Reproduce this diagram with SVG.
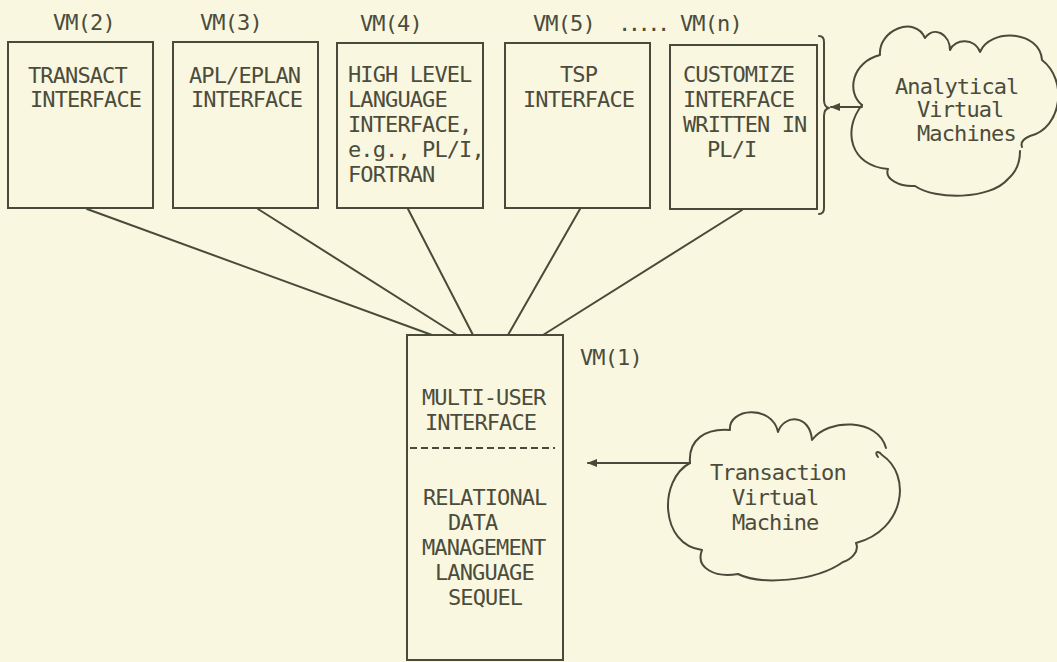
<svg xmlns="http://www.w3.org/2000/svg" width="1057" height="662" viewBox="0 0 1057 662">
  <style>
    .bg { fill: #f9f7e0; }
    .box { fill: none; stroke: #4a4a3a; stroke-width: 2; }
    .ln { fill: none; stroke: #4a4a3a; stroke-width: 2; stroke-linecap: round; stroke-linejoin: round; }
    .cloud { fill: none; stroke: #4a4a3a; stroke-width: 2; stroke-linecap: round; stroke-linejoin: round; }
    .dash { stroke: #4a4a3a; stroke-width: 2; stroke-dasharray: 7 4; }
    .t { font-family: "DejaVu Sans Mono", "Liberation Mono", monospace; font-size: 22px; letter-spacing: -0.9px; fill: #4c4c3c; }
    .dots { letter-spacing: -3.5px; }
  </style>
  <defs>
    <marker id="arrow" viewBox="0 0 10 8" refX="9" refY="4" markerWidth="10" markerHeight="8" markerUnits="userSpaceOnUse" orient="auto">
      <path d="M0,0 L10,4 L0,8 z" fill="#4a4a3a"/>
    </marker>
  </defs>

  <rect class="bg" x="0" y="0" width="1057" height="662"/>

  <!-- labels above the interface machines -->
  <g id="vm-labels">
    <text class="t" x="53" y="30">VM(2)</text>
    <text class="t" x="200" y="30">VM(3)</text>
    <text class="t" x="360" y="31">VM(4)</text>
    <text class="t" x="533" y="31">VM(5)</text>
    <text class="t dots" x="618" y="31">.....</text>
    <text class="t" x="680" y="31">VM(n)</text>
  </g>

  <g id="transact">
    <rect class="box" x="8" y="42" width="145" height="166"/>
    <text class="t" x="28" y="83">TRANSACT</text>
    <text class="t" x="30" y="107">INTERFACE</text>
  </g>

  <g id="apl-eplan">
    <rect class="box" x="173" y="42" width="145" height="166"/>
    <text class="t" x="189" y="83">APL/EPLAN</text>
    <text class="t" x="191" y="107">INTERFACE</text>
  </g>

  <g id="high-level">
    <rect class="box" x="337" y="43" width="146" height="165"/>
    <text class="t" x="348" y="82">HIGH LEVEL</text>
    <text class="t" x="348" y="107">LANGUAGE</text>
    <text class="t" x="348" y="132">INTERFACE,</text>
    <text class="t" x="348" y="157">e.g., PL/I,</text>
    <text class="t" x="348" y="182">FORTRAN</text>
  </g>

  <g id="tsp">
    <rect class="box" x="505" y="43" width="145" height="165"/>
    <text class="t" x="560" y="82">TSP</text>
    <text class="t" x="523" y="107">INTERFACE</text>
  </g>

  <g id="customize">
    <rect class="box" x="670" y="45" width="147" height="164"/>
    <text class="t" x="683" y="82">CUSTOMIZE</text>
    <text class="t" x="683" y="107">INTERFACE</text>
    <text class="t" x="683" y="132">WRITTEN IN</text>
    <text class="t" x="707" y="157">PL/I</text>
  </g>

  <!-- brace grouping the analytical machines -->
  <g id="brace">
    <path class="ln" d="M819,36 Q824,36 824,42 L824,100 Q824,107 829,108 Q824,109 824,116 L824,208 Q824,214 819,214"/>
  </g>

  <g id="analytical-cloud">
    <path class="cloud" d="M862,105 C846,92 852,62 880,55 C878,30 915,15 925,38 C935,25 950,35 950,50 C955,38 975,38 980,52 C990,28 1040,30 1042,60 C1068,80 1062,128 1030,136 C1025,138 1020,141 1022,147"/>
    <path class="cloud" d="M1020,151 C1020,163 1015,173 1008,179 C990,200 935,200 915,186 C900,187 884,179 888,169 C850,166 842,130 862,105"/>
    <text class="t" x="895" y="94">Analytical</text>
    <text class="t" x="917" y="117">Virtual</text>
    <text class="t" x="917" y="141">Machines</text>
  </g>

  <g id="vm1">
    <rect class="box" x="407" y="335" width="156" height="325"/>
    <text class="t" x="580" y="365">VM(1)</text>
    <text class="t" x="422" y="405">MULTI-USER</text>
    <text class="t" x="425" y="430">INTERFACE</text>
    <line class="dash" x1="410" y1="448" x2="555" y2="448"/>
    <text class="t" x="423" y="505">RELATIONAL</text>
    <text class="t" x="448" y="530">DATA</text>
    <text class="t" x="422" y="555">MANAGEMENT</text>
    <text class="t" x="435" y="580">LANGUAGE</text>
    <text class="t" x="448" y="605">SEQUEL</text>
  </g>

  <g id="transaction-cloud">
    <path class="cloud" d="M690,463 C688,440 705,428 730,430 C728,408 772,404 778,432 C784,414 810,414 812,440 C828,418 878,418 886,448"/>
    <path class="cloud" d="M878,457 C874,452 878,450 882,455 C912,475 905,530 856,543 C860,552 850,560 843,562 C815,582 760,585 738,574 C715,578 695,568 702,550 C660,545 658,480 690,463"/>
    <text class="t" x="710" y="480">Transaction</text>
    <text class="t" x="732" y="505">Virtual</text>
    <text class="t" x="732" y="530">Machine</text>
  </g>

  <g id="connectors">
    <line class="ln" x1="87" y1="209" x2="432" y2="335"/>
    <line class="ln" x1="258" y1="209" x2="457" y2="335"/>
    <line class="ln" x1="408" y1="209" x2="473" y2="335"/>
    <line class="ln" x1="580" y1="209" x2="508" y2="335"/>
    <line class="ln" x1="742" y1="210" x2="543" y2="335"/>
    <line class="ln" x1="862" y1="107" x2="831" y2="107" marker-end="url(#arrow)"/>
    <line class="ln" x1="690" y1="463" x2="588" y2="463" marker-end="url(#arrow)"/>
  </g>
</svg>
